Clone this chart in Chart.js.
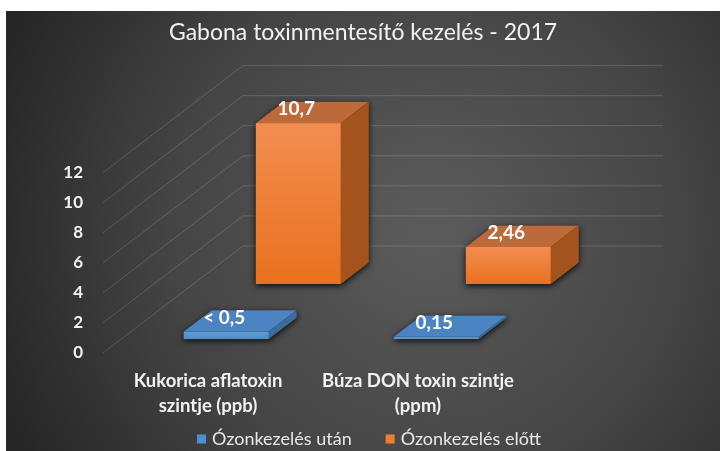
<!DOCTYPE html>
<html>
<head>
<meta charset="utf-8">
<script src="https://cdn.jsdelivr.net/npm/chart.js@4.4.1/dist/chart.umd.min.js"></script>
<style>
  html, body { margin: 0; padding: 0; background: #fff; }
  #wrap { width: 720px; height: 451px; }
</style>
</head>
<body>
<div id="wrap"><canvas id="chart" width="720" height="451"></canvas></div>
<script>
const categories = [['Kukorica aflatoxin', 'szintje (ppb)'], ['Búza DON toxin szintje', '(ppm)']];
const seriesNames = ['Ózonkezelés után', 'Ózonkezelés előtt'];
const afterValues = [0.5, 0.15];
const beforeValues = [10.7, 2.46];
const afterPrefix = ['< ', ''];
const beforePrefix = ['', ''];
const yMin = 0, yMax = 12, yStep = 2;

// oblique offset from the front plane to the back wall
const WALL_DX = 140, WALL_DY = -107;
// depth of each series row and of a box, as fractions of the wall offset
const rowDepth = [0.13, 0.645];
const boxDepth = 0.2;

const palette = [
  { frontTop: '#5e9dd6', frontBottom: '#4f8dca', top: '#4b84c0', side: '#3c6c9e', legend: '#4f8fcf' },
  { frontTop: '#f28d50', frontBottom: '#e9711f', top: '#bd6a3a', side: '#a5531d', legend: '#ed7d31' }
];

const fontFamily = 'Lato, "Open Sans", sans-serif';

function fmt(v) {
  return String(v).replace('.', ',');
}

const box3d = {
  id: 'box3d',
  beforeDraw(chart) {
    const { ctx, width, height } = chart;
    ctx.save();
    ctx.fillStyle = '#ffffff';
    ctx.fillRect(0, 0, width, height);
    const g = ctx.createRadialGradient(430, 230, 20, 430, 230, 460);
    g.addColorStop(0, '#5a5a5a');
    g.addColorStop(0.55, '#444444');
    g.addColorStop(1, '#262626');
    ctx.fillStyle = g;
    ctx.fillRect(6, 11, width - 6, height - 11);
    ctx.restore();
  },
  beforeDatasetsDraw(chart) {
    const { ctx, chartArea } = chart;
    const ys = chart.scales.y;
    ctx.save();
    ctx.strokeStyle = 'rgba(255,255,255,0.16)';
    ctx.lineWidth = 1;
    ys.ticks.forEach(t => {
      const py = ys.getPixelForValue(t.value);
      ctx.beginPath();
      ctx.moveTo(chartArea.left, py);
      ctx.lineTo(chartArea.left + WALL_DX, py + WALL_DY);
      ctx.lineTo(chartArea.right + WALL_DX, py + WALL_DY);
      ctx.stroke();
    });
    ctx.restore();
  },
  beforeDatasetDraw(chart, args) {
    const { ctx } = chart;
    const i = args.index;
    const col = palette[i];
    const ox = WALL_DX * rowDepth[i], oy = WALL_DY * rowDepth[i];
    const bx = WALL_DX * boxDepth, by = WALL_DY * boxDepth;
    args.meta.data.forEach(bar => {
      const { x, y, base, width } = bar.getProps(['x', 'y', 'base', 'width'], true);
      const l = x - width / 2 + ox, r = x + width / 2 + ox;
      const t = y + oy, b = base + oy;
      ctx.save();
      // soft shadow under the box
      ctx.shadowColor = 'rgba(0,0,0,0.85)';
      ctx.shadowBlur = 6;
      ctx.shadowOffsetY = 2;
      ctx.fillStyle = '#1a1a1a';
      ctx.beginPath();
      ctx.moveTo(l, b);
      ctx.lineTo(l, t);
      ctx.lineTo(l + bx, t + by);
      ctx.lineTo(r + bx, t + by);
      ctx.lineTo(r + bx, b + by);
      ctx.lineTo(r, b);
      ctx.closePath();
      ctx.fill();
      ctx.restore();

      ctx.save();
      // top face
      ctx.fillStyle = col.top;
      ctx.beginPath();
      ctx.moveTo(l, t);
      ctx.lineTo(l + bx, t + by);
      ctx.lineTo(r + bx, t + by);
      ctx.lineTo(r, t);
      ctx.closePath();
      ctx.fill();
      // right side face
      ctx.fillStyle = col.side;
      ctx.beginPath();
      ctx.moveTo(r, t);
      ctx.lineTo(r + bx, t + by);
      ctx.lineTo(r + bx, b + by);
      ctx.lineTo(r, b);
      ctx.closePath();
      ctx.fill();
      // front face
      const g = ctx.createLinearGradient(0, t, 0, b);
      g.addColorStop(0, col.frontTop);
      g.addColorStop(1, col.frontBottom);
      ctx.fillStyle = g;
      ctx.fillRect(l, t, r - l, Math.max(b - t, 1));
      ctx.restore();
    });
    return false;
  },
  afterDatasetsDraw(chart) {
    const { ctx } = chart;
    ctx.save();
    ctx.fillStyle = '#ffffff';
    ctx.font = 'bold 19px ' + fontFamily;
    ctx.textAlign = 'center';
    ctx.textBaseline = 'middle';
    chart.data.datasets.forEach((ds, i) => {
      const ox = WALL_DX * rowDepth[i], oy = WALL_DY * rowDepth[i];
      chart.getDatasetMeta(i).data.forEach((bar, j) => {
        const text = ds.prefix[j] + fmt(ds.data[j]);
        ctx.fillText(text, bar.x + ox - 2, bar.y + oy - 14);
      });
    });
    ctx.restore();
  },
  afterDraw(chart) {
    // legend row under the category labels
    const { ctx } = chart;
    const box = 9, gap = 6, itemGap = 34, cx = 369, cy = 439;
    ctx.save();
    ctx.font = '18px ' + fontFamily;
    ctx.textBaseline = 'middle';
    const items = chart.data.datasets.map(ds => ({
      text: ds.label, color: ds.backgroundColor, w: box + gap + ctx.measureText(ds.label).width
    }));
    const total = items.reduce((s, it) => s + it.w, 0) + itemGap * (items.length - 1);
    let x = cx - total / 2;
    items.forEach(it => {
      ctx.fillStyle = it.color;
      ctx.fillRect(x, cy - box / 2, box, box);
      ctx.fillStyle = '#e8e8e8';
      ctx.fillText(it.text, x + box + gap, cy);
      x += it.w + itemGap;
    });
    ctx.restore();
  }
};

new Chart(document.getElementById('chart'), {
  type: 'bar',
  data: {
    labels: categories,
    datasets: [
      { label: seriesNames[0], data: afterValues, prefix: afterPrefix, backgroundColor: palette[0].legend },
      { label: seriesNames[1], data: beforeValues, prefix: beforePrefix, backgroundColor: palette[1].legend }
    ]
  },
  options: {
    responsive: false,
    animation: false,
    events: [],
    grouped: false,
    categoryPercentage: 1,
    barPercentage: 0.405,
    layout: { padding: { left: 6, right: 0, top: 11, bottom: 28 } },
    scales: {
      x: {
        grid: { display: false, drawTicks: false },
        border: { display: false },
        afterFit(scale) { scale.height = 70; },
        ticks: {
          color: '#f2f2f2',
          padding: 15,
          maxRotation: 0,
          autoSkip: false,
          font: { family: fontFamily, size: 18.5, weight: 'bold', lineHeight: 1.36 }
        }
      },
      y: {
        min: yMin,
        max: yMax,
        grid: { display: false, drawTicks: false },
        border: { display: false },
        afterFit(scale) { scale.width = 97; },
        ticks: {
          stepSize: yStep,
          color: '#f2f2f2',
          padding: 20,
          font: { family: fontFamily, size: 17, weight: 'bold' }
        }
      },
      // empty right-hand column that holds the receding back wall
      depth: {
        type: 'linear',
        position: 'right',
        grid: { display: false, drawTicks: false },
        border: { display: false },
        ticks: { display: false },
        afterFit(scale) { scale.width = 197; }
      }
    },
    plugins: {
      title: {
        display: true,
        text: 'Gabona toxinmentesítő kezelés - 2017',
        color: '#f2f2f2',
        padding: { top: 8, bottom: 126 },
        font: { family: fontFamily, size: 23, weight: 'normal' }
      },
      legend: { display: false },
      tooltip: { enabled: false }
    }
  },
  plugins: [box3d]
});
</script>
</body>
</html>
